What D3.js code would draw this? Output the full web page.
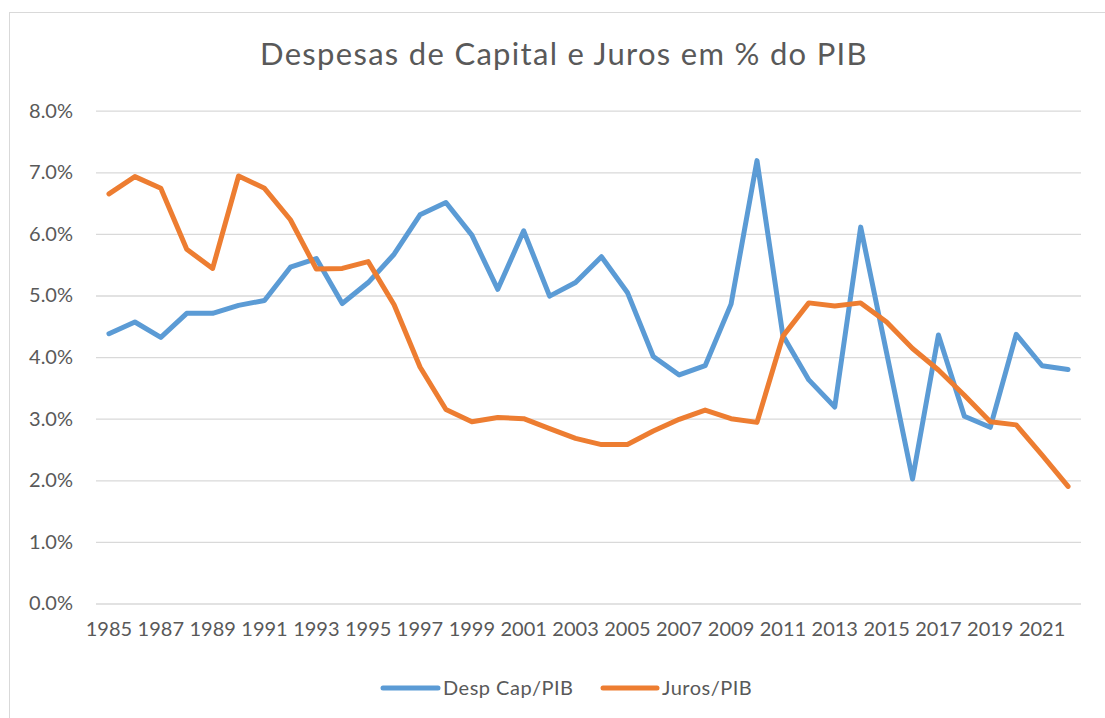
<!DOCTYPE html>
<html>
<head>
<meta charset="utf-8">
<script src="https://cdn.jsdelivr.net/npm/d3@7"></script>
<style>
  html, body { margin: 0; padding: 0; background: #fff; }
  svg { display: block; }
  text { font-family: Lato, "Open Sans", sans-serif; fill: #595959; }
</style>
</head>
<body>
<svg id="chart" width="1105" height="718"></svg>
<script>
const years = [1985,1986,1987,1988,1989,1990,1991,1992,1993,1994,
               1995,1996,1997,1998,1999,2000,2001,2002,2003,2004,
               2005,2006,2007,2008,2009,2010,2011,2012,2013,2014,
               2015,2016,2017,2018,2019,2020,2021,2022];
const despCap = [4.38,4.57,4.32,4.71,4.71,4.84,4.92,5.46,5.60,4.87,
                 5.21,5.67,6.31,6.51,5.98,5.10,6.05,4.99,5.21,5.63,
                 5.05,4.01,3.71,3.86,4.86,7.19,4.35,3.63,3.19,6.11,
                 4.07,2.02,4.36,3.04,2.86,4.37,3.86,3.80];
const juros = [6.65,6.93,6.74,5.75,5.44,6.94,6.74,6.23,5.43,5.44,
               5.55,4.85,3.84,3.15,2.95,3.02,3.00,2.84,2.68,2.58,
               2.58,2.80,2.99,3.14,3.00,2.94,4.34,4.88,4.83,4.88,
               4.57,4.14,3.79,3.38,2.95,2.90,2.41,1.90];
const yTicks = [0,1,2,3,4,5,6,7,8];
const xTickLabels = [1985,1987,1989,1991,1993,1995,1997,1999,2001,2003,
                     2005,2007,2009,2011,2013,2015,2017,2019,2021];
const seriesNames = ["Desp Cap/PIB", "Juros/PIB"];
const colors = ["#5B9BD5", "#ED7D31"];
const title = "Despesas de Capital e Juros em % do PIB";

(function () {
const svg = d3.select("#chart");
const pL = 96, pR = 1081, pT = 110.7, pB = 603.5;

// chart border
svg.append("rect")
  .attr("x", 9.5).attr("y", 12.5).attr("width", 1200).attr("height", 800)
  .attr("fill", "none").attr("stroke", "#D9D9D9").attr("stroke-width", 1);

const x = d3.scaleBand().domain(years).range([pL, pR]).padding(0);
const xc = d => x(d) + x.bandwidth() / 2;
const y = d3.scaleLinear().domain([0, 8]).range([pB, pT]);

// Y axis with gridlines
const yAxis = svg.append("g")
  .attr("transform", `translate(${pL},0)`)
  .call(d3.axisLeft(y).tickValues(yTicks)
        .tickFormat(d => d3.format(".1f")(d) + "%")
        .tickSize(-(pR - pL)).tickPadding(23));
yAxis.select(".domain").remove();
yAxis.selectAll(".tick line").attr("stroke", "#D9D9D9").attr("stroke-width", 1.3);
yAxis.selectAll(".tick text")
  .attr("font-size", 20).attr("fill", "#595959")
  .style("font-family", "Lato, 'Open Sans', sans-serif");

// X axis labels
const xAxis = svg.append("g")
  .attr("transform", `translate(0,${pB})`)
  .call(d3.axisBottom(x).tickValues(xTickLabels).tickSize(0).tickPadding(18));
xAxis.select(".domain").remove();
xAxis.selectAll(".tick text")
  .attr("font-size", 20).attr("fill", "#595959")
  .style("font-family", "Lato, 'Open Sans', sans-serif");

// Lines
const line = d3.line().x((d, i) => xc(years[i])).y(d => y(d));
[despCap, juros].forEach((s, k) => {
  svg.append("path")
    .datum(s)
    .attr("d", line)
    .attr("fill", "none")
    .attr("stroke", colors[k])
    .attr("stroke-width", 5)
    .attr("stroke-linejoin", "round")
    .attr("stroke-linecap", "round");
});

// Title
svg.append("text")
  .attr("x", 564).attr("y", 65)
  .attr("text-anchor", "middle")
  .attr("font-size", 31)
  .attr("letter-spacing", 1.3)
  .text(title);

// Legend
const legend = [
  { x1: 383, x2: 438, tx: 443 },
  { x1: 603, x2: 657, tx: 662 }
];
legend.forEach((l, k) => {
  svg.append("line")
    .attr("x1", l.x1).attr("x2", l.x2).attr("y1", 688).attr("y2", 688)
    .attr("stroke", colors[k]).attr("stroke-width", 5).attr("stroke-linecap", "round");
  svg.append("text")
    .attr("x", l.tx).attr("y", 695)
    .attr("font-size", 20)
    .attr("letter-spacing", 0.5)
    .text(seriesNames[k]);
});
})();
</script>
</body>
</html>
